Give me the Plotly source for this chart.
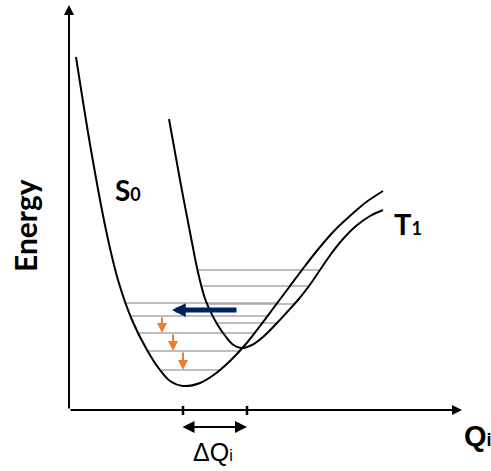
import numpy as np
import plotly.graph_objects as go

# Potential energy curves (Q = nuclear coordinate, E = energy, arbitrary units)
s0_q = [0.7, 2.2, 3.7, 4.9, 6.3, 7.8, 9.1, 10.1, 11.4,
        13.1, 14.6, 16.1, 17.6, 19.1, 20.6, 22.1, 23.6, 25.1, 26.6, 28.1, 29.6, 31.4]
s0_e = [35.3, 26.0, 18.0, 13.0, 9.0, 6.0, 4.0, 2.9, 2.4,
        2.7, 3.6, 4.9, 6.5, 8.4, 10.4, 12.4, 14.4, 16.3, 18.0, 19.4, 20.7, 21.9]
t1_q = [10.0, 11.1, 12.25, 12.85, 13.65, 14.75, 15.7, 16.45, 17.2,
        18.3, 19.4, 20.8, 21.9, 22.9, 24.0, 25.1, 26.2, 27.4, 28.7, 30.1, 31.4]
t1_e = [29.1, 23.0, 17.0, 14.0, 11.0, 8.7, 7.3, 6.5, 6.2,
        6.5, 7.3, 8.7, 9.9, 11.0, 12.4, 14.0, 15.6, 17.1, 18.4, 19.4, 20.0]

# Vibrational levels
s0_levels = [10.7, 9.4, 7.7, 5.9, 4.0]
t1_levels = [14.0, 12.4, 10.6, 8.7]

# Vibrational relaxation arrows (orange): Q position, from level index to next
relax_q = [9.3, 10.4, 11.4]
relax_from = [1, 2, 3]

# Intersystem crossing arrow (navy)
isc_e = 10.0
isc_q_from = 16.9
isc_q_to = 10.3

# Displacement ticks (Delta Q)
dq_ticks = [11.4, 17.8]
dq_arrow = [11.2, 17.8]

def crossings(q, e, level):
    q = np.array(q); e = np.array(e)
    i = int(np.argmin(e))
    ql, el = q[:i + 1], e[:i + 1]
    qr, er = q[i:], e[i:]
    left = np.interp(level, el[::-1], ql[::-1])
    right = np.interp(level, er, qr)
    return left, right

fig = go.Figure()

for lv in s0_levels:
    a, b = crossings(s0_q, s0_e, lv)
    fig.add_trace(go.Scatter(x=[a, b], y=[lv, lv], mode="lines",
                             line=dict(color="#a9a9a9", width=1.6), hoverinfo="skip"))
for lv in t1_levels:
    a, b = crossings(t1_q, t1_e, lv)
    fig.add_trace(go.Scatter(x=[a, b], y=[lv, lv], mode="lines",
                             line=dict(color="#a9a9a9", width=1.6), hoverinfo="skip"))

fig.add_trace(go.Scatter(x=s0_q, y=s0_e, mode="lines", line=dict(color="black", width=2, shape="spline", smoothing=1)))
fig.add_trace(go.Scatter(x=t1_q, y=t1_e, mode="lines", line=dict(color="black", width=2, shape="spline", smoothing=1)))

for t in dq_ticks:
    fig.add_trace(go.Scatter(x=[t, t], y=[-0.5, 0.4], mode="lines", line=dict(color="black", width=2.5)))

ann = []
# axes
ann.append(dict(x=0, y=40.5, ax=0, ay=0, xref="x", yref="y", axref="x", ayref="y", text="",
                showarrow=True, arrowhead=2, arrowsize=1, arrowwidth=2, arrowcolor="black"))
ann.append(dict(x=39.3, y=0, ax=0, ay=0, xref="x", yref="y", axref="x", ayref="y", text="",
                showarrow=True, arrowhead=2, arrowsize=1, arrowwidth=2, arrowcolor="black"))
# delta Q double arrow
ann.append(dict(x=dq_arrow[1], y=-1.7, ax=dq_arrow[0], ay=-1.7, xref="x", yref="y", axref="x", ayref="y",
                text="", showarrow=True, arrowhead=2, startarrowhead=2, arrowside="end+start",
                arrowsize=1.2, startarrowsize=1.2, arrowwidth=2, arrowcolor="black"))
# ISC arrow
ann.append(dict(x=isc_q_to, y=isc_e, ax=isc_q_from, ay=isc_e, xref="x", yref="y", axref="x", ayref="y",
                text="", showarrow=True, arrowhead=2, arrowsize=0.55, arrowwidth=5, arrowcolor="#002060"))
# relaxation arrows
for q, i in zip(relax_q, relax_from):
    ann.append(dict(x=q, y=s0_levels[i + 1], ax=q, ay=s0_levels[i], xref="x", yref="y", axref="x", ayref="y",
                    text="", showarrow=True, arrowhead=2, arrowsize=1.0, arrowwidth=2, arrowcolor="#ED7D31"))

lato = "Lato"
arial = "Liberation Sans"
ann.append(dict(x=-4.4, y=18.4, text="<b>Energy</b>", textangle=-90, showarrow=False,
                font=dict(family=lato, size=30, color="black")))
ann.append(dict(x=4.4, y=22.0, xanchor="left", text="<b>S<span style='font-size:18px'>0</span></b>", showarrow=False,
                font=dict(family=lato, size=28, color="black")))
ann.append(dict(x=32.3, y=18.7, xanchor="left", text="<b>T<span style='font-size:18px'>1</span></b>", showarrow=False,
                font=dict(family=lato, size=29, color="black")))
ann.append(dict(x=39.3, y=-2.6, xanchor="left", text="<b>Q<span style='font-size:18px'>i</span></b>", showarrow=False,
                font=dict(family=arial, size=29, color="black")))
ann.append(dict(x=14.4, y=-4.2, text="ΔQ<span style='font-size:16px'>i</span>", showarrow=False,
                font=dict(family=arial, size=25, color="black")))

fig.update_layout(
    width=491, height=471, margin=dict(l=0, r=0, t=0, b=0),
    paper_bgcolor="white", plot_bgcolor="white", showlegend=False,
    xaxis=dict(range=[-6.9, 42.2], visible=False, fixedrange=True),
    yaxis=dict(range=[-6.1, 41.0], visible=False, fixedrange=True),
    annotations=ann,
)
fig.write_html("out.html")
